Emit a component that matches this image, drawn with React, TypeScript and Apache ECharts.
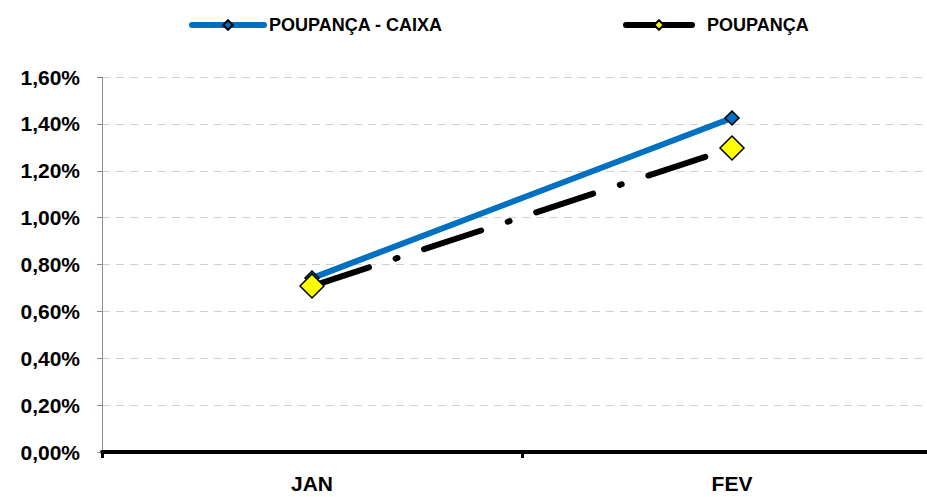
import React, { useEffect, useRef } from "react";
import * as echarts from "echarts";

const categories = ["JAN", "FEV"];
const caixaValues = [0.742, 1.425];
const poupancaValues = [0.708, 1.297];
const seriesNames = ["POUPANÇA - CAIXA", "POUPANÇA"];

const FONT = "'Liberation Sans', Arial, sans-serif";

export default function App() {
  const ref = useRef<HTMLDivElement>(null);
  useEffect(() => {
    if (!ref.current) return;
    const chart = echarts.init(ref.current, undefined, { renderer: "svg" });
    const legendText = { fontFamily: FONT, fontWeight: "bold", fontSize: 18, color: "#000" };
    chart.setOption({
      animation: false,
      backgroundColor: "#ffffff",
      legend: [
        {
          left: 184,
          top: 11,
          itemWidth: 72,
          itemHeight: 12,
          textStyle: legendText,
          data: [{ name: seriesNames[0], lineStyle: { type: "solid", width: 6, cap: "round" } }],
        },
        {
          left: 618,
          top: 11,
          itemWidth: 66,
          itemHeight: 12,
          textStyle: { ...legendText, padding: [0, 0, 0, 10] },
          data: [{ name: seriesNames[1], lineStyle: { type: "solid", width: 6, cap: "round" } }],
        },
      ],
      grid: { left: 102, top: 77, width: 840, height: 375, containLabel: false },
      xAxis: {
        type: "category",
        data: categories,
        boundaryGap: true,
        axisLine: { lineStyle: { color: "#000", width: 4 } },
        axisTick: { show: true, length: 6, lineStyle: { color: "#000", width: 3 } },
        axisLabel: {
          fontFamily: FONT,
          fontWeight: "bold",
          fontSize: 21,
          color: "#000",
          margin: 21,
        },
      },
      yAxis: {
        type: "value",
        min: 0,
        max: 1.6,
        interval: 0.2,
        axisLine: { show: true, lineStyle: { color: "#8c8c8c", width: 1 } },
        axisTick: { show: true, length: 5, lineStyle: { color: "#8c8c8c" } },
        splitLine: { show: true, lineStyle: { color: "#d0d0d0", type: [8, 6], width: 1 } },
        axisLabel: {
          fontFamily: FONT,
          fontWeight: "bold",
          fontSize: 21,
          color: "#000",
          margin: 22,
          formatter: (v: number) => v.toFixed(2).replace(".", ",") + "%",
        },
      },
      series: [
        {
          name: seriesNames[0],
          type: "line",
          data: caixaValues,
          symbol: "diamond",
          symbolSize: 14,
          z: 3,
          lineStyle: { color: "#0070C0", width: 6 },
          itemStyle: { color: "#0070C0", borderColor: "#000", borderWidth: 1.5 },
        },
        {
          name: seriesNames[1],
          type: "line",
          data: poupancaValues,
          symbol: "diamond",
          symbolSize: 24,
          z: 4,
          lineStyle: { color: "#000", width: 6, type: [60, 28, 2, 28], cap: "round" },
          itemStyle: { color: "#FFFF00", borderColor: "#000", borderWidth: 1.5 },
        },
      ],
    });
    return () => chart.dispose();
  }, []);
  return (
    <div style={{ width: 927, height: 497, position: "absolute", left: 0, top: 0, overflow: "hidden" }}>
      <div ref={ref} style={{ width: 960, height: 497 }} />
    </div>
  );
}
